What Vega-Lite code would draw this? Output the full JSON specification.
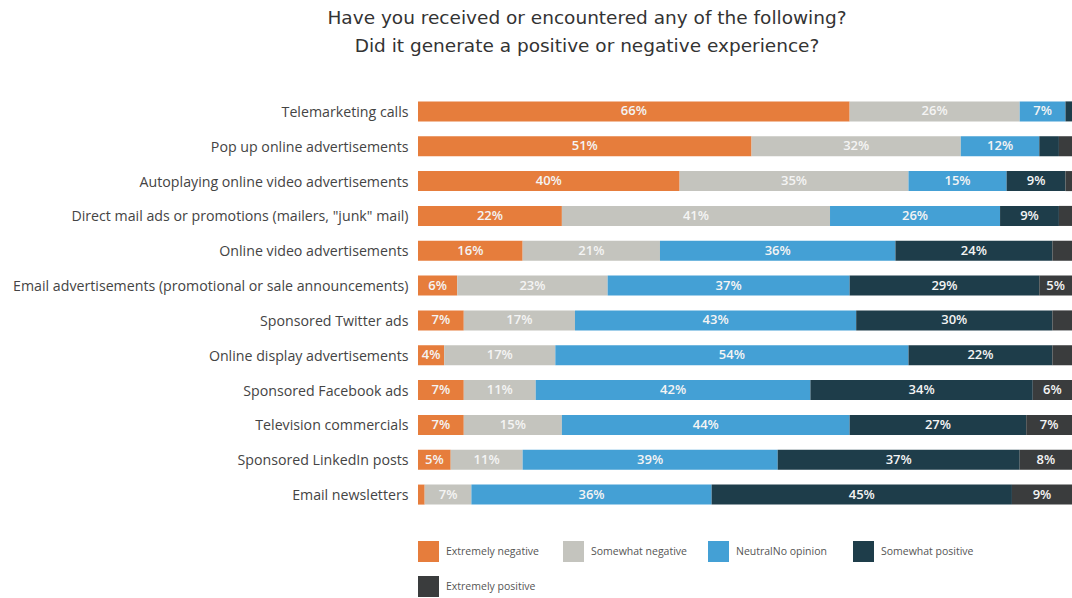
{
  "$schema": "https://vega.github.io/schema/vega-lite/v6.json",
  "width": 654,
  "height": 418,
  "autosize": {"type": "none"},
  "padding": {"left": 418, "top": 94, "right": 0, "bottom": 86},
  "background": "white",
  "config": {"view": {"stroke": null}, "font": "Open Sans"},
  "title": {
    "text": ["Have you received or encountered any of the following?", "Did it generate a positive or negative experience?"],
    "font": "DejaVu Sans",
    "fontSize": 18.5,
    "fontWeight": "normal",
    "color": "#333333",
    "lineHeight": 28,
    "anchor": "middle",
    "dx": -158,
    "offset": 39
  },
  "data": {
    "values": [
      {"item": "Telemarketing calls", "category": "Extremely negative", "value": 66},
      {"item": "Telemarketing calls", "category": "Somewhat negative", "value": 26},
      {"item": "Telemarketing calls", "category": "NeutralNo opinion", "value": 7},
      {"item": "Telemarketing calls", "category": "Somewhat positive", "value": 1},
      {"item": "Telemarketing calls", "category": "Extremely positive", "value": 0},
      {"item": "Pop up online advertisements", "category": "Extremely negative", "value": 51},
      {"item": "Pop up online advertisements", "category": "Somewhat negative", "value": 32},
      {"item": "Pop up online advertisements", "category": "NeutralNo opinion", "value": 12},
      {"item": "Pop up online advertisements", "category": "Somewhat positive", "value": 3},
      {"item": "Pop up online advertisements", "category": "Extremely positive", "value": 2},
      {"item": "Autoplaying online video advertisements", "category": "Extremely negative", "value": 40},
      {"item": "Autoplaying online video advertisements", "category": "Somewhat negative", "value": 35},
      {"item": "Autoplaying online video advertisements", "category": "NeutralNo opinion", "value": 15},
      {"item": "Autoplaying online video advertisements", "category": "Somewhat positive", "value": 9},
      {"item": "Autoplaying online video advertisements", "category": "Extremely positive", "value": 1},
      {"item": "Direct mail ads or promotions (mailers, \"junk\" mail)", "category": "Extremely negative", "value": 22},
      {"item": "Direct mail ads or promotions (mailers, \"junk\" mail)", "category": "Somewhat negative", "value": 41},
      {"item": "Direct mail ads or promotions (mailers, \"junk\" mail)", "category": "NeutralNo opinion", "value": 26},
      {"item": "Direct mail ads or promotions (mailers, \"junk\" mail)", "category": "Somewhat positive", "value": 9},
      {"item": "Direct mail ads or promotions (mailers, \"junk\" mail)", "category": "Extremely positive", "value": 2},
      {"item": "Online video advertisements", "category": "Extremely negative", "value": 16},
      {"item": "Online video advertisements", "category": "Somewhat negative", "value": 21},
      {"item": "Online video advertisements", "category": "NeutralNo opinion", "value": 36},
      {"item": "Online video advertisements", "category": "Somewhat positive", "value": 24},
      {"item": "Online video advertisements", "category": "Extremely positive", "value": 3},
      {"item": "Email advertisements (promotional or sale announcements)", "category": "Extremely negative", "value": 6},
      {"item": "Email advertisements (promotional or sale announcements)", "category": "Somewhat negative", "value": 23},
      {"item": "Email advertisements (promotional or sale announcements)", "category": "NeutralNo opinion", "value": 37},
      {"item": "Email advertisements (promotional or sale announcements)", "category": "Somewhat positive", "value": 29},
      {"item": "Email advertisements (promotional or sale announcements)", "category": "Extremely positive", "value": 5},
      {"item": "Sponsored Twitter ads", "category": "Extremely negative", "value": 7},
      {"item": "Sponsored Twitter ads", "category": "Somewhat negative", "value": 17},
      {"item": "Sponsored Twitter ads", "category": "NeutralNo opinion", "value": 43},
      {"item": "Sponsored Twitter ads", "category": "Somewhat positive", "value": 30},
      {"item": "Sponsored Twitter ads", "category": "Extremely positive", "value": 3},
      {"item": "Online display advertisements", "category": "Extremely negative", "value": 4},
      {"item": "Online display advertisements", "category": "Somewhat negative", "value": 17},
      {"item": "Online display advertisements", "category": "NeutralNo opinion", "value": 54},
      {"item": "Online display advertisements", "category": "Somewhat positive", "value": 22},
      {"item": "Online display advertisements", "category": "Extremely positive", "value": 3},
      {"item": "Sponsored Facebook ads", "category": "Extremely negative", "value": 7},
      {"item": "Sponsored Facebook ads", "category": "Somewhat negative", "value": 11},
      {"item": "Sponsored Facebook ads", "category": "NeutralNo opinion", "value": 42},
      {"item": "Sponsored Facebook ads", "category": "Somewhat positive", "value": 34},
      {"item": "Sponsored Facebook ads", "category": "Extremely positive", "value": 6},
      {"item": "Television commercials", "category": "Extremely negative", "value": 7},
      {"item": "Television commercials", "category": "Somewhat negative", "value": 15},
      {"item": "Television commercials", "category": "NeutralNo opinion", "value": 44},
      {"item": "Television commercials", "category": "Somewhat positive", "value": 27},
      {"item": "Television commercials", "category": "Extremely positive", "value": 7},
      {"item": "Sponsored LinkedIn posts", "category": "Extremely negative", "value": 5},
      {"item": "Sponsored LinkedIn posts", "category": "Somewhat negative", "value": 11},
      {"item": "Sponsored LinkedIn posts", "category": "NeutralNo opinion", "value": 39},
      {"item": "Sponsored LinkedIn posts", "category": "Somewhat positive", "value": 37},
      {"item": "Sponsored LinkedIn posts", "category": "Extremely positive", "value": 8},
      {"item": "Email newsletters", "category": "Extremely negative", "value": 1},
      {"item": "Email newsletters", "category": "Somewhat negative", "value": 7},
      {"item": "Email newsletters", "category": "NeutralNo opinion", "value": 36},
      {"item": "Email newsletters", "category": "Somewhat positive", "value": 45},
      {"item": "Email newsletters", "category": "Extremely positive", "value": 9}
    ]
  },
  "transform": [
    {"calculate": "indexof(['Extremely negative','Somewhat negative','NeutralNo opinion','Somewhat positive','Extremely positive'], datum.category)", "as": "k"},
    {"stack": "value", "groupby": ["item"], "sort": [{"field": "k", "order": "ascending"}], "offset": "normalize", "as": ["x0", "x1"]},
    {"calculate": "(datum.x0 + datum.x1) / 2", "as": "mid"},
    {"calculate": "datum.value + '%'", "as": "label"}
  ],
  "encoding": {
    "y": {
      "field": "item",
      "type": "nominal",
      "sort": null,
      "scale": {"paddingInner": 0.425, "paddingOuter": 0.2125},
      "axis": {
        "title": null,
        "domain": false,
        "ticks": false,
        "labelFont": "Open Sans",
        "labelFontSize": 14.2,
        "labelColor": "#444444",
        "labelPadding": 10,
        "labelOffset": 1.5,
        "labelLimit": 420
      }
    }
  },
  "layer": [
    {
      "mark": {"type": "bar"},
      "encoding": {
        "x": {"field": "x0", "type": "quantitative", "scale": {"domain": [0, 1], "nice": false}, "axis": null},
        "x2": {"field": "x1"},
        "color": {
          "field": "category",
          "type": "nominal",
          "scale": {
            "domain": ["Extremely negative", "Somewhat negative", "NeutralNo opinion", "Somewhat positive", "Extremely positive"],
            "range": ["#E67D3C", "#C4C4BE", "#44A0D5", "#1E3D4A", "#3A3C3D"]
          },
          "legend": {
            "title": null,
            "orient": "none",
            "legendX": 0,
            "legendY": 447,
            "direction": "horizontal",
            "columns": 4,
            "gridAlign": "all",
            "columnPadding": 21,
            "rowPadding": 14,
            "symbolType": "square",
            "symbolSize": 441,
            "symbolStrokeWidth": 0,
            "symbolOpacity": 1,
            "labelFont": "Open Sans",
            "labelFontSize": 10.5,
            "labelColor": "#555555",
            "labelOffset": 7
          }
        },
        "order": {"field": "k", "type": "quantitative"}
      }
    },
    {
      "transform": [{"filter": "datum.value >= 4"}],
      "mark": {"type": "text", "color": "#F4F4F4", "fontSize": 13, "fontWeight": 600, "font": "Open Sans", "align": "center", "baseline": "middle"},
      "encoding": {
        "x": {"field": "mid", "type": "quantitative"},
        "text": {"field": "label", "type": "nominal"}
      }
    }
  ]
}
